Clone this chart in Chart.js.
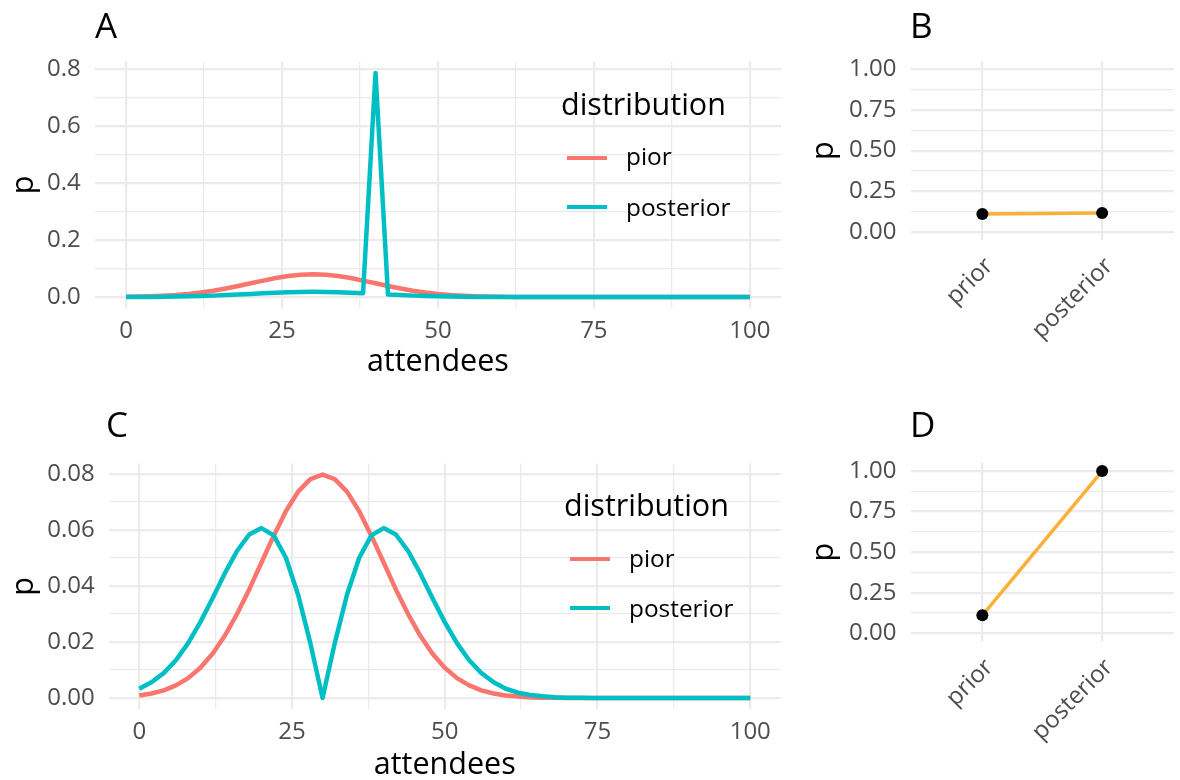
<!DOCTYPE html>
<html>
<head>
<meta charset="utf-8">
<script src="https://cdn.jsdelivr.net/npm/chart.js@4.4.1/dist/chart.umd.min.js"></script>
<style>
  html, body { margin: 0; padding: 0; background: #fff; width: 1180px; height: 780px; overflow: hidden; font-family: 'Open Sans', sans-serif; }
  canvas { position: absolute; }
  .tag { position: absolute; font-size: 35px; line-height: 35px; color: #000; }
  .lg-title { position: absolute; font-size: 30.5px; line-height: 30.5px; color: #000; white-space: nowrap; }
  .lg-key { position: absolute; width: 40px; height: 4px; }
  .lg-label { position: absolute; font-size: 24.4px; line-height: 24.4px; color: #000; white-space: nowrap; }
</style>
</head>
<body>
<canvas id="chartA" width="800" height="390" style="left:0;top:0"></canvas>
<canvas id="chartB" width="380" height="390" style="left:800px;top:0"></canvas>
<canvas id="chartC" width="800" height="400" style="left:0;top:390px"></canvas>
<canvas id="chartD" width="380" height="390" style="left:800px;top:390px"></canvas>

<div class="tag" style="left:95px;top:7px">A</div>
<div class="tag" style="left:910px;top:7px">B</div>
<div class="tag" style="left:106px;top:406px">C</div>
<div class="tag" style="left:910px;top:406px">D</div>

<!-- legend, panel A -->
<div class="lg-title" style="left:561px;top:88px">distribution</div>
<div class="lg-key" style="left:567px;top:156px;background:#F8766D"></div>
<div class="lg-label" style="left:626px;top:144px">pior</div>
<div class="lg-key" style="left:567px;top:205px;background:#00BFC4"></div>
<div class="lg-label" style="left:626px;top:195px">posterior</div>

<!-- legend, panel C -->
<div class="lg-title" style="left:564px;top:489px">distribution</div>
<div class="lg-key" style="left:570px;top:557px;background:#F8766D"></div>
<div class="lg-label" style="left:629px;top:546px">pior</div>
<div class="lg-key" style="left:570px;top:606px;background:#00BFC4"></div>
<div class="lg-label" style="left:629px;top:596px">posterior</div>

<script>
// ---- data ----
const attendees = [0, 2, 4, 6, 8, 10, 12, 14, 16, 18, 20, 22, 24, 26, 28, 30, 32, 34, 36, 38, 40,
  42, 44, 46, 48, 50, 52, 54, 56, 58, 60, 62, 64, 66, 68, 70, 72, 74, 76, 78, 80,
  82, 84, 86, 88, 90, 92, 94, 96, 98, 100];

// prior ("pior" in the legend), same curve in A and C
const priorDist = [0.0009, 0.0016, 0.0027, 0.0045, 0.0071, 0.0108, 0.0158, 0.0222, 0.0300, 0.0388, 0.0484,
  0.0579, 0.0667, 0.0737, 0.0782, 0.0798, 0.0782, 0.0737, 0.0667, 0.0579, 0.0484,
  0.0388, 0.0300, 0.0222, 0.0158, 0.0108, 0.0071, 0.0045, 0.0027, 0.0016, 0.0009,
  0.0005, 0.0002, 0.0001, 0.0001, 0, 0, 0, 0, 0, 0,
  0, 0, 0, 0, 0, 0, 0, 0, 0, 0];

// posterior, panel A (spike at 40)
const posteriorA = [0.0002, 0.0004, 0.0006, 0.0010, 0.0016, 0.0025, 0.0036, 0.0051, 0.0069, 0.0089, 0.0111,
  0.0133, 0.0153, 0.0169, 0.0180, 0.0184, 0.0180, 0.0169, 0.0153, 0.0133, 0.787,
  0.0089, 0.0069, 0.0051, 0.0036, 0.0025, 0.0016, 0.0010, 0.0006, 0.0004, 0.0002,
  0.0001, 0, 0, 0, 0, 0, 0, 0, 0, 0,
  0, 0, 0, 0, 0, 0, 0, 0, 0, 0];

// posterior, panel C (two humps, zero at 30)
const posteriorC = [0.0033, 0.0056, 0.0089, 0.0135, 0.0196, 0.0271, 0.0356, 0.0445, 0.0525, 0.0584, 0.0607,
  0.0581, 0.0501, 0.0369, 0.0196, 0, 0.0196, 0.0369, 0.0501, 0.0581, 0.0607,
  0.0584, 0.0525, 0.0445, 0.0356, 0.0271, 0.0196, 0.0135, 0.0089, 0.0056, 0.0033,
  0.0019, 0.0011, 0.0006, 0.0003, 0.0001, 0.0001, 0, 0, 0, 0,
  0, 0, 0, 0, 0, 0, 0, 0, 0, 0];

const stages = ['prior', 'posterior'];
const probB = [0.111, 0.117];
const probD = [0.111, 1.0];

// ticks: even index = major (labelled), odd index = minor grid line
const xTicks = [0, 12.5, 25, 37.5, 50, 62.5, 75, 87.5, 100];
const yTicksA = [0, 0.1, 0.2, 0.3, 0.4, 0.5, 0.6, 0.7, 0.8];
const yTicksC = [0, 0.01, 0.02, 0.03, 0.04, 0.05, 0.06, 0.07, 0.08];
const yTicksP = [0, 0.125, 0.25, 0.375, 0.5, 0.625, 0.75, 0.875, 1];

const RED = '#F8766D', TEAL = '#00BFC4', ORANGE = '#FBB03B';
const GREY = '#4D4D4D', GRID = '#EBEBEB';

Chart.defaults.font.family = "'Open Sans', sans-serif";

const majorMinor = ctx => (ctx.index % 2 === 0 ? 2.2 : 1.3);

function axisTitle(text, pad) {
  return { display: true, text, color: '#000', font: { size: 30.5 }, padding: pad };
}

// ── distribution panels (A, C) ──
function distChart(id, post, yTicks, yDigits, box) {
  new Chart(document.getElementById(id), {
    type: 'line',
    data: {
      datasets: [
        { label: 'pior', data: attendees.map((x, i) => ({ x, y: priorDist[i] })), borderColor: RED, order: 2 },
        { label: 'posterior', data: attendees.map((x, i) => ({ x, y: post[i] })), borderColor: TEAL, order: 1 }
      ]
    },
    options: {
      responsive: false,
      animation: false,
      layout: { padding: { top: box.top, right: box.right, left: 0, bottom: 0 } },
      elements: {
        point: { radius: 0 },
        line: { borderWidth: 4.5, tension: 0, borderJoinStyle: 'round', borderCapStyle: 'butt' }
      },
      scales: {
        x: {
          type: 'linear', min: -5, max: 105,
          afterBuildTicks: s => { s.ticks = xTicks.map(v => ({ value: v })); },
          afterFit: s => { s.height = box.xh; },
          ticks: {
            autoSkip: false, minRotation: 0, maxRotation: 0, padding: 8.8,
            color: GREY, font: { size: 24 },
            callback: (v, i) => (i % 2 === 0 ? String(xTicks[i]) : '')
          },
          grid: { color: GRID, lineWidth: majorMinor, drawTicks: false },
          border: { display: false },
          title: axisTitle('attendees', { top: 0, bottom: box.xtPad })
        },
        y: {
          type: 'linear', min: box.ymin, max: box.ymax,
          afterBuildTicks: s => { s.ticks = yTicks.map(v => ({ value: v })); },
          afterFit: s => { s.width = box.left; },
          ticks: {
            autoSkip: false, padding: 14, color: GREY, font: { size: 24 },
            callback: (v, i) => (i % 2 === 0 ? yTicks[i].toFixed(yDigits) : '')
          },
          grid: { color: GRID, lineWidth: majorMinor, drawTicks: false },
          border: { display: false },
          title: axisTitle('p', { top: 6, bottom: 0 })
        }
      },
      plugins: { legend: { display: false }, tooltip: { enabled: false } }
    }
  });
}

// ── prior vs posterior probability panels (B, D) ──
function probChart(id, vals, box) {
  new Chart(document.getElementById(id), {
    type: 'line',
    data: {
      datasets: [{
        label: 'p',
        data: stages.map((s, i) => ({ x: i, y: vals[i] })),
        borderColor: ORANGE, borderWidth: 3.5,
        pointRadius: 6, pointBackgroundColor: '#000', pointBorderWidth: 0
      }]
    },
    options: {
      responsive: false,
      animation: false,
      layout: { padding: { top: box.top, right: 0, left: 0, bottom: 0 } },
      scales: {
        x: {
          type: 'linear', min: -0.6, max: 1.6,
          afterBuildTicks: s => { s.ticks = stages.map((c, i) => ({ value: i })); },
          afterFit: s => { s.height = box.xh; },
          ticks: {
            autoSkip: false, minRotation: 45, maxRotation: 45, padding: 12, labelOffset: 7,
            color: GREY, font: { size: 24 },
            callback: (v, i) => stages[i]
          },
          grid: { color: GRID, lineWidth: 2.2, drawTicks: false },
          border: { display: false }
        },
        y: {
          type: 'linear', min: -0.05, max: 1.05,
          afterBuildTicks: s => { s.ticks = yTicksP.map(v => ({ value: v })); },
          afterFit: s => { s.width = box.left; },
          ticks: {
            autoSkip: false, padding: 14, color: GREY, font: { size: 24 },
            callback: (v, i) => (i % 2 === 0 ? yTicksP[i].toFixed(2) : '')
          },
          grid: { color: GRID, lineWidth: majorMinor, drawTicks: false },
          border: { display: false },
          title: axisTitle('p', { top: 6, bottom: 0 })
        }
      },
      plugins: { legend: { display: false }, tooltip: { enabled: false } }
    }
  });
}

distChart('chartA', posteriorA, yTicksA, 1,
  { top: 61.7, right: 19, left: 94.8, xh: 81.7, xtPad: 9.5, ymin: -0.0394, ymax: 0.8264 });
distChart('chartC', posteriorC, yTicksC, 2,
  { top: 73.4, right: 19.2, left: 108.7, xh: 80.8, xtPad: 6.5, ymin: -0.004, ymax: 0.0838 });
probChart('chartB', probB, { top: 61.2, left: 110.5, xh: 149.9 });
probChart('chartD', probD, { top: 72.9, left: 110.5, xh: 138.6 });
</script>
</body>
</html>
